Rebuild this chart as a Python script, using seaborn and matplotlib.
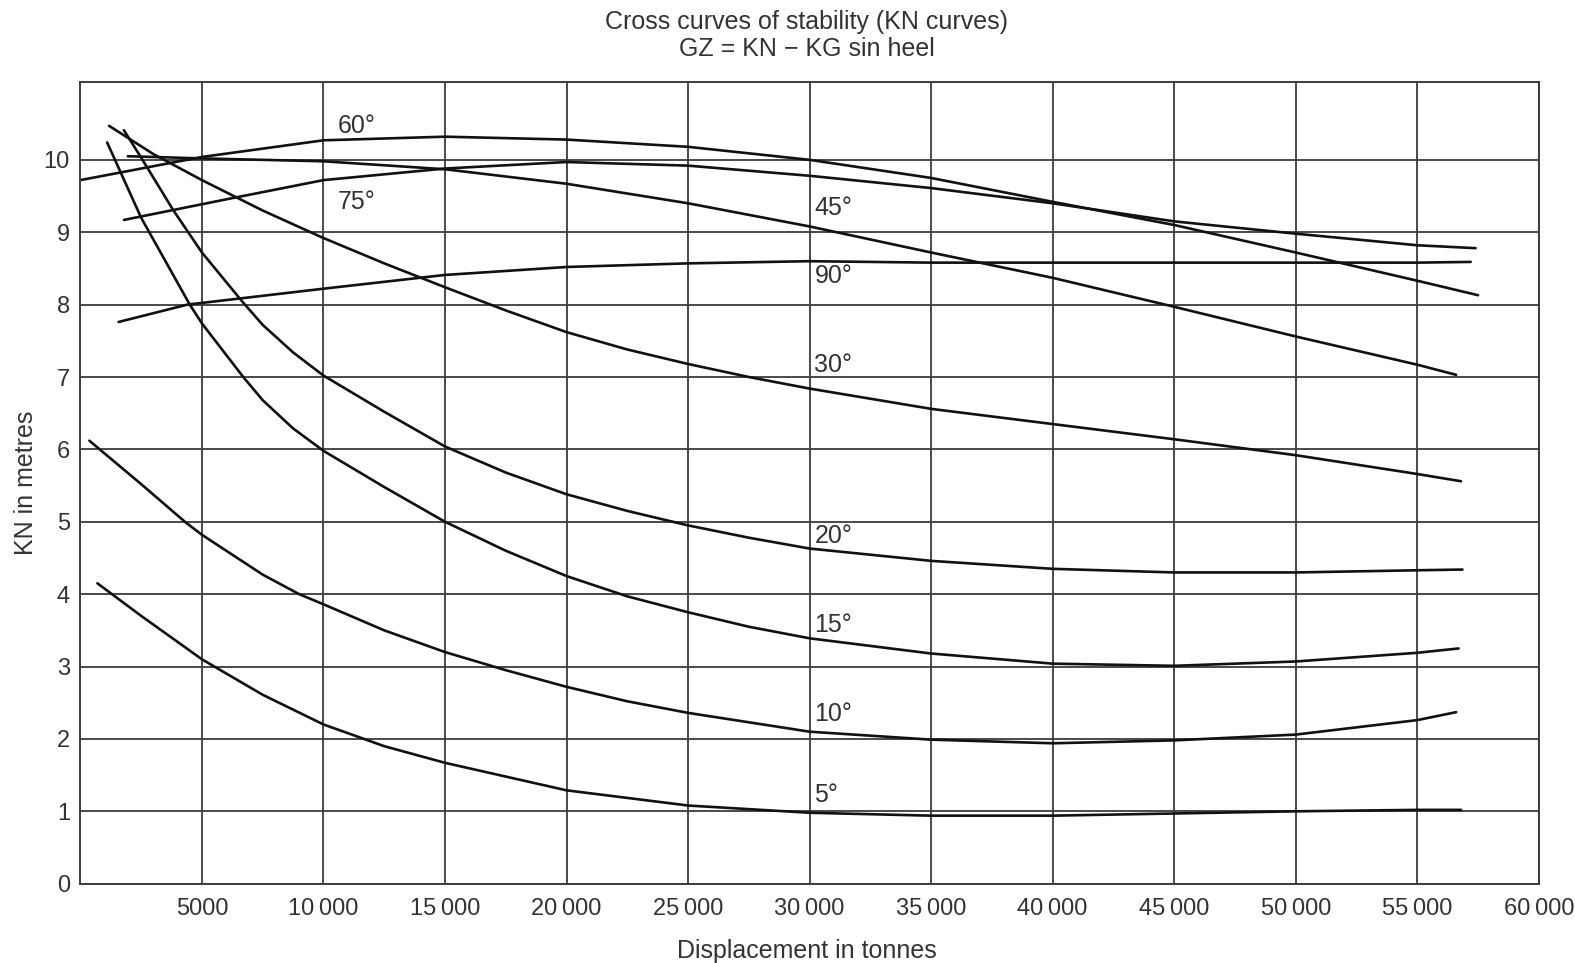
import matplotlib
matplotlib.use("Agg")
import matplotlib.pyplot as plt
import matplotlib.ticker as mticker
import pandas as pd
import seaborn as sns

# KN values (metres), per heel angle
disp_5 = [700, 2500, 5000, 7500, 10000, 12500, 15000, 17500, 20000, 25000, 30000, 35000, 40000, 45000, 50000, 55000, 56800]
kn_5 = [4.15, 3.70, 3.10, 2.61, 2.20, 1.90, 1.67, 1.48, 1.29, 1.08, 0.98, 0.94, 0.94, 0.97, 1.00, 1.02, 1.02]

disp_10 = [370, 2500, 4300, 5000, 7500, 9000, 10000, 12500, 15000, 17500, 20000, 22500, 25000, 30000, 35000, 40000, 45000, 50000, 55000, 56600]
kn_10 = [6.12, 5.52, 5.00, 4.82, 4.27, 4.00, 3.86, 3.50, 3.20, 2.95, 2.72, 2.52, 2.36, 2.10, 1.99, 1.94, 1.98, 2.06, 2.26, 2.37]

disp_15 = [1100, 2500, 4500, 5000, 6700, 7500, 8750, 10000, 12500, 15000, 17500, 20000, 22500, 25000, 27500, 30000, 35000, 40000, 45000, 50000, 55000, 56700]
kn_15 = [10.24, 9.20, 8.00, 7.74, 7.00, 6.68, 6.29, 5.98, 5.48, 5.00, 4.60, 4.25, 3.97, 3.75, 3.55, 3.39, 3.18, 3.04, 3.01, 3.07, 3.19, 3.25]

disp_20 = [1790, 2500, 3830, 5000, 6640, 7500, 8750, 10000, 12500, 15000, 17500, 20000, 22500, 25000, 27500, 30000, 35000, 40000, 45000, 50000, 55000, 56860]
kn_20 = [10.41, 10.03, 9.30, 8.72, 8.05, 7.72, 7.34, 7.02, 6.52, 6.04, 5.68, 5.38, 5.15, 4.95, 4.78, 4.63, 4.46, 4.35, 4.30, 4.30, 4.33, 4.34]

disp_30 = [1180, 3000, 5000, 7500, 10000, 12500, 15000, 17500, 20000, 22500, 25000, 27500, 30000, 35000, 40000, 45000, 50000, 55000, 56800]
kn_30 = [10.47, 10.08, 9.72, 9.30, 8.92, 8.57, 8.24, 7.92, 7.62, 7.38, 7.18, 7.00, 6.84, 6.56, 6.35, 6.14, 5.92, 5.66, 5.56]

disp_45 = [1950, 5000, 10000, 15000, 20000, 25000, 30000, 35000, 40000, 45000, 50000, 55000, 56600]
kn_45 = [10.05, 10.02, 9.98, 9.87, 9.67, 9.40, 9.08, 8.72, 8.37, 7.97, 7.56, 7.17, 7.03]

disp_60 = [0, 5000, 10000, 15000, 20000, 25000, 30000, 35000, 40000, 45000, 50000, 55000, 57500]
kn_60 = [9.72, 10.04, 10.27, 10.32, 10.28, 10.18, 10.00, 9.75, 9.42, 9.10, 8.72, 8.33, 8.13]

disp_75 = [1790, 6380, 10000, 15000, 20000, 25000, 30000, 35000, 40000, 45000, 50000, 55000, 57400]
kn_75 = [9.17, 9.48, 9.72, 9.88, 9.97, 9.92, 9.78, 9.61, 9.40, 9.15, 8.98, 8.82, 8.78]

disp_90 = [1570, 4400, 10000, 15000, 20000, 25000, 30000, 35000, 40000, 45000, 50000, 55000, 57200]
kn_90 = [7.76, 8.00, 8.22, 8.41, 8.52, 8.57, 8.60, 8.58, 8.58, 8.58, 8.58, 8.58, 8.59]

angles = ["5°", "10°", "15°", "20°", "30°", "45°", "60°", "75°", "90°"]
label_x = [30200, 30200, 30200, 30200, 30200, 30200, 10600, 10600, 30200]
label_y = [1.22, 2.35, 3.58, 4.80, 7.17, 9.33, 10.47, 9.42, 8.40]

xticks = [5000, 10000, 15000, 20000, 25000, 30000, 35000, 40000, 45000, 50000, 55000, 60000]
yticks = [0, 1, 2, 3, 4, 5, 6, 7, 8, 9, 10]

curves = [(disp_5, kn_5), (disp_10, kn_10), (disp_15, kn_15), (disp_20, kn_20),
          (disp_30, kn_30), (disp_45, kn_45), (disp_60, kn_60), (disp_75, kn_75),
          (disp_90, kn_90)]

frames = []
for ang, (xs, ys) in zip(angles, curves):
    frames.append(pd.DataFrame({"disp": xs, "kn": ys, "angle": ang}))
df = pd.concat(frames, ignore_index=True)

sns.set_theme(style="white")
plt.rcParams["font.family"] = ["Liberation Sans", "DejaVu Sans"]

W, H = 1575, 963
fig = plt.figure(figsize=(W / 100, H / 100), dpi=100)
ax = fig.add_axes([80.4 / W, 1 - 883.7 / H, 1458.4 / W, 801.3 / H])

sns.lineplot(data=df, x="disp", y="kn", units="angle", estimator=None,
             sort=False, color="#111111", linewidth=1.9, ax=ax)

ax.set_xlim(0, 60000)
ax.set_ylim(0, 11.07)
ax.set_xticks(xticks)
ax.set_yticks(yticks)
ax.xaxis.set_major_formatter(mticker.FuncFormatter(
    lambda v, p: f"{int(v):,}".replace(",", "\u2009") if v >= 10000 else f"{int(v)}"))
ax.grid(True, color="#3c3c3c", linewidth=1.3)
ax.set_axisbelow(True)
for s in ax.spines.values():
    s.set_color("#3c3c3c")
    s.set_linewidth(1.4)
ax.tick_params(length=0, labelsize=17, labelcolor="#333333")
ax.tick_params(axis="x", pad=10.5)
ax.tick_params(axis="y", pad=7.5)

for ang, lx, ly in zip(angles, label_x, label_y):
    ax.text(lx, ly, ang, fontsize=18, color="#333333", ha="left", va="center")

ax.set_xlabel("Displacement in tonnes", fontsize=18, color="#333333", va="center")
ax.xaxis.set_label_coords(0.498, -0.0845)
ax.set_ylabel("KN in metres", fontsize=18, color="#333333", va="center")
ax.yaxis.set_label_coords(-0.037, 0.5)

fig.text(806.6 / W, 1 - 22 / H, "Cross curves of stability (KN curves)",
         ha="center", va="center", fontsize=18, color="#333333")
fig.text(806.6 / W, 1 - 49 / H, "GZ = KN \u2212 KG sin heel",
         ha="center", va="center", fontsize=18, color="#333333")

fig.savefig("out.png", dpi=100)
